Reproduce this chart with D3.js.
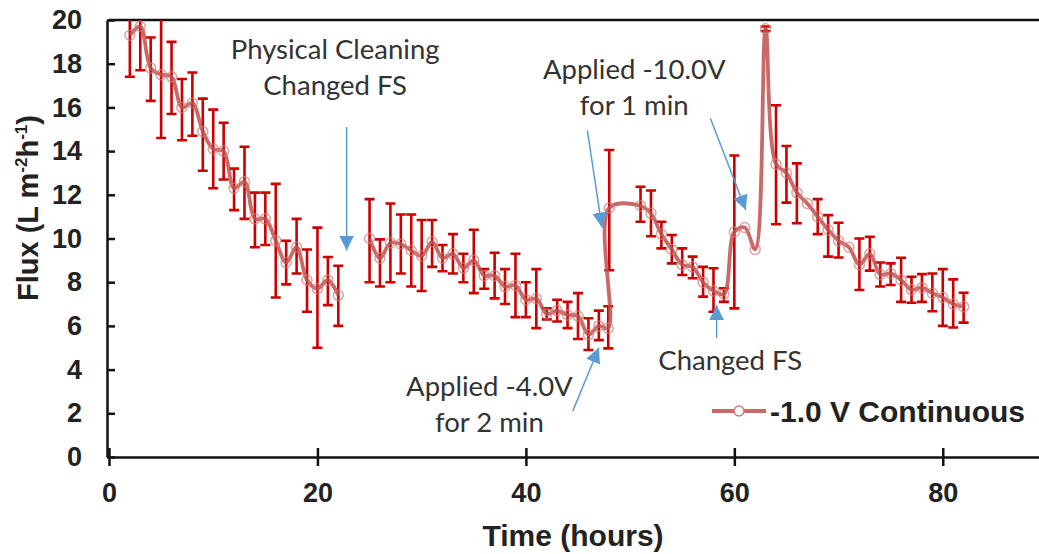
<!DOCTYPE html>
<html>
<head>
<meta charset="utf-8">
<script src="https://cdn.jsdelivr.net/npm/d3@7"></script>
<style>
  body { margin: 0; background: #fff; }
  .axisStyle text { font-family: Arial, "Liberation Sans", sans-serif; font-weight: bold; font-size: 27px; fill: #222; }
  .axisStyle path, .axisStyle line { stroke: #111; stroke-width: 2.5; }
  .note { font-family: Lato, "Open Sans", sans-serif; font-size: 27.5px; fill: #333; }
</style>
</head>
<body>
<div class="chart"></div>
<script>
// data (hours, flux, error bar low / high)
const hours = [2, 3, 4, 5, 6, 7, 8, 9, 10, 11, 12, 13, 14, 15, 16, 17, 18, 19, 20, 21, 22,
    23.5,
    25, 26, 27, 28, 29, 30, 31, 32, 33, 34, 35, 36, 37, 38, 39, 40, 41, 42, 43, 44, 45, 46, 47, 47.9, 48,
    51, 52, 53, 54, 55, 56, 57, 58, 59, 60, 61, 62, 63,
    64, 65, 66, 67, 68, 69, 70, 71, 72, 73, 74, 75, 76, 77, 78, 79, 80, 81, 82];
const flux = [19.3, 19.7, 17.8, 17.5, 17.4, 16.0, 16.2, 14.9, 14.1, 14.0, 12.3, 12.6, 10.9, 10.9, 9.9, 8.9, 9.6, 8.1, 7.7, 8.1, 7.4,
    null,
    10.0, 9.1, 9.8, 9.75, 9.45, 9.2, 9.85, 9.1, 9.3, 8.65, 9.0, 8.3, 8.3, 7.8, 7.85, 7.2, 7.25, 6.55, 6.7, 6.5, 6.45, 5.6, 6.0, 5.9, 11.4,
    11.5, 11.15, 10.2, 9.5, 8.8, 8.7, 8.0, 7.6, 7.45, 10.3, 10.5, 9.5, 19.6,
    13.4, 13.0, 12.1, 11.6, 11.0, 10.4, 9.9, 9.6, 8.8, 9.3, 8.35, 8.4, 8.1, 7.65, 7.75, 7.5, 7.3, 7.0, 6.88];
const errLow = [17.4, 17.7, 16.3, 14.6, 15.7, 14.5, 14.7, 13.1, 12.3, 12.7, 11.3, 10.9, 9.6, 9.7, 7.3, 7.9, 8.4, 6.65, 5.0, 6.95, 6.0,
    null,
    8.0, 7.8, 8.0, 8.4, 7.8, 7.6, 8.7, 8.5, 8.4, 8.0, 7.5, 7.7, 7.26, 7.0, 6.4, 6.4, 5.9, 6.3, 6.2, 5.9, 5.4, 4.9, 5.35, 4.97, 8.55,
    10.77, 10.1, 9.55, 8.86, 8.33, 8.18, 7.34, 6.65, 7.1, 6.8, null, null, 19.5,
    10.65, 11.64, 10.7, null, 10.2, 9.17, 9.13, null, 7.64, 8.53, 7.8, 7.87, 7.1, 7.06, 7.1, 6.67, 6.0, 5.93, 6.15];
const errHigh = [20.8, 21.5, 19.2, 20.4, 19.0, 17.3, 17.6, 16.4, 15.9, 15.3, 13.2, 14.2, 12.1, 12.1, 12.5, 9.9, 10.9, 9.5, 10.5, 9.15, 8.75,
    null,
    11.8, 9.96, 11.6, 11.1, 11.1, 10.85, 10.85, 9.7, 10.2, 9.3, 10.4, 8.6, 9.35, 8.6, 9.3, 8.0, 8.6, 6.8, 7.2, 7.1, 7.5, 6.35, 6.7, 6.9, 14.05,
    12.37, 12.2, 10.77, 10.16, 9.55, 9.17, 8.7, 8.64, 7.72, 13.8, null, null, 19.7,
    16.1, 14.23, 13.44, null, 11.8, 11.07, 10.72, null, 10.0, 10.08, 8.9, 8.86, 9.12, 8.25, 8.37, 8.4, 8.6, 8.13, 7.52];

const xTicks = [0, 20, 40, 60, 80];
const yTicks = [0, 2, 4, 6, 8, 10, 12, 14, 16, 18, 20];
const seriesName = "-1.0 V Continuous";

// annotations: text lines, and arrows as [fromHour, fromFlux, toHour, toFlux]
const notes = [
    {lines: ["Physical Cleaning", "Changed FS"], at: [21.7, 18.2]},
    {lines: ["Applied -10.0V", "for 1 min"], at: [50.4, 17.3]},
    {lines: ["Applied -4.0V", "for 2 min"], at: [36.5, 2.8]},
    {lines: ["Changed FS"], at: [59.6, 4.0]}
];
const arrows = [
    [22.8, 15.1, 22.8, 9.45],
    [45.9, 14.95, 47.3, 10.5],
    [57.7, 15.5, 61.1, 11.3],
    [44.5, 2.1, 47.0, 5.0],
    [58.3, 5.45, 58.3, 6.95]
];

const margin = {top: 20, right: 0, bottom: 97, left: 109};
const fullW = 1039, fullH = 554;
let width = 938;
let height = fullH - margin.top - margin.bottom;

let svg = d3.select(".chart")
    .append("svg")
    .attr("width", fullW)
    .attr("height", fullH)
    .append("g")
    .attr("transform", "translate(" + margin.left + "," + margin.top + ")");

let xScale = d3.scaleLinear().domain([0, 90]).range([0, width]);
let yScale = d3.scaleLinear().domain([0, 20]).range([height, 0]);

let data = hours.map((h, i) => ({h: h, v: flux[i], lo: errLow[i], hi: errHigh[i]}));

svg.append("defs").append("clipPath").attr("id", "plotClip")
    .append("rect").attr("x", 0).attr("y", 0).attr("width", width).attr("height", height);

// arrow head marker
svg.select("defs").append("marker")
    .attr("id", "head")
    .attr("viewBox", "0 0 10 10")
    .attr("refX", 10).attr("refY", 5)
    .attr("markerWidth", 15).attr("markerHeight", 15)
    .attr("markerUnits", "userSpaceOnUse")
    .attr("orient", "auto")
    .append("path").attr("d", "M0,0 L10,5 L0,10 z").attr("fill", "#5b9bd5");

// top frame line
svg.append("line")
    .attr("x1", xScale(0)).attr("x2", width)
    .attr("y1", yScale(20)).attr("y2", yScale(20))
    .attr("stroke", "#111").attr("stroke-width", 2.5);

// axes
svg.append("g")
    .attr("class", "axisStyle")
    .attr("transform", "translate(0," + height + ")")
    .call(d3.axisBottom(xScale).tickValues(xTicks).tickSizeInner(9).tickSizeOuter(0).tickPadding(17))
    .call(g => g.selectAll(".tick line").attr("y1", -9));

svg.append("g")
    .attr("class", "axisStyle")
    .attr("transform", "translate(-2,0)")
    .call(d3.axisLeft(yScale).tickValues(yTicks).tickSizeInner(8).tickSizeOuter(0).tickPadding(17))
    .call(g => g.selectAll(".tick line").attr("x2", 8));

let plot = svg.append("g").attr("clip-path", "url(#plotClip)");

// error bars
let bars = data.filter(d => d.lo != null);
plot.selectAll(".err")
    .data(bars)
    .enter()
    .append("path")
    .attr("class", "err")
    .attr("d", d => {
        let x = xScale(d.h), y1 = yScale(d.lo), y2 = yScale(d.hi);
        return "M" + (x - 5) + "," + y1 + "H" + (x + 5) + "M" + x + "," + y1 + "V" + y2 + "M" + (x - 5) + "," + y2 + "H" + (x + 5);
    })
    .attr("fill", "none")
    .attr("stroke", "#cc0000")
    .attr("stroke-width", 2.6);

// smoothed line
let line = d3.line()
    .defined(d => d.v != null)
    .x(d => xScale(d.h))
    .y(d => yScale(d.v))
    .curve(d3.curveCatmullRom.alpha(0.5));

plot.append("path")
    .datum(data)
    .attr("d", line)
    .attr("fill", "none")
    .attr("stroke", "#c0504d")
    .attr("stroke-opacity", 0.85)
    .attr("stroke-width", 3.8);

plot.selectAll("circle")
    .data(data.filter(d => d.v != null))
    .enter()
    .append("circle")
    .attr("cx", d => xScale(d.h))
    .attr("cy", d => yScale(d.v))
    .attr("r", 5)
    .attr("fill", "none")
    .attr("stroke", "#d07a78")
    .attr("stroke-opacity", 0.7)
    .attr("stroke-width", 1.5);

// annotations
notes.forEach(n => {
    let t = svg.append("text")
        .attr("class", "note")
        .attr("text-anchor", "middle")
        .attr("x", xScale(n.at[0]))
        .attr("y", yScale(n.at[1]));
    n.lines.forEach((s, i) => {
        t.append("tspan").attr("x", xScale(n.at[0])).attr("dy", i === 0 ? 0 : 36).text(s);
    });
});

arrows.forEach(a => {
    svg.append("line")
        .attr("x1", xScale(a[0])).attr("y1", yScale(a[1]))
        .attr("x2", xScale(a[2])).attr("y2", yScale(a[3]))
        .attr("stroke", "#5b9bd5")
        .attr("stroke-width", 1.5)
        .attr("marker-end", "url(#head)");
});

// legend
let lg = svg.append("g").attr("transform", "translate(" + (712 - margin.left) + "," + (411 - margin.top) + ")");
lg.append("line").attr("x1", 0).attr("x2", 54).attr("y1", 0).attr("y2", 0)
    .attr("stroke", "#c0504d").attr("stroke-opacity", 0.85).attr("stroke-width", 3.8);
lg.append("circle").attr("cx", 27).attr("cy", 0).attr("r", 5)
    .attr("fill", "#fff").attr("stroke", "#d07a78").attr("stroke-width", 1.5);
lg.append("text")
    .attr("x", 58).attr("y", 11)
    .attr("font-family", "Arial, 'Liberation Sans', sans-serif")
    .attr("font-weight", "bold")
    .attr("font-size", 30)
    .attr("fill", "#222")
    .text(seriesName);

// axis titles
svg.append("text")
    .attr("text-anchor", "middle")
    .attr("x", 573 - margin.left)
    .attr("y", 546 - margin.top)
    .attr("font-family", "Arial, 'Liberation Sans', sans-serif")
    .attr("font-weight", "bold")
    .attr("font-size", 30)
    .attr("fill", "#222")
    .text("Time (hours)");

let yt = svg.append("text")
    .attr("text-anchor", "middle")
    .attr("transform", "translate(" + (38 - margin.left) + "," + (208 - margin.top) + ") rotate(-90)")
    .attr("font-family", "Arial, 'Liberation Sans', sans-serif")
    .attr("font-weight", "bold")
    .attr("font-size", 29)
    .attr("fill", "#222");
yt.append("tspan").text("Flux (L m");
yt.append("tspan").attr("font-size", 17).attr("dy", -11).text("-2");
yt.append("tspan").attr("dy", 11).text("h");
yt.append("tspan").attr("font-size", 17).attr("dy", -11).text("-1");
yt.append("tspan").attr("dy", 11).text(")");
</script>
</body>
</html>
